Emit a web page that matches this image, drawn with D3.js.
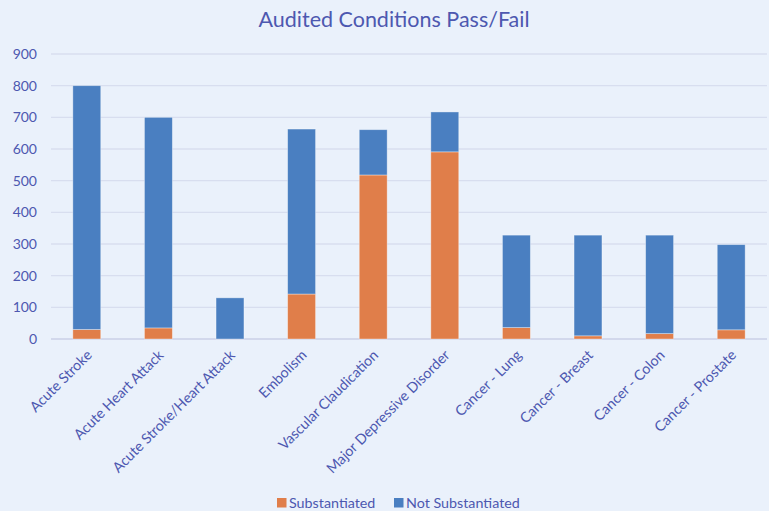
<!DOCTYPE html>
<html>
<head>
<meta charset="utf-8">
<script src="https://cdn.jsdelivr.net/npm/d3@7"></script>
<style>
  html, body { margin: 0; padding: 0; background: #eaf1fb; }
  svg { display: block; font-family: Lato, "Open Sans", sans-serif; }
</style>
</head>
<body>
<div id="chart"></div>
<script>
// categories and values
const categories = ["Acute Stroke", "Acute Heart Attack", "Acute Stroke/Heart Attack", "Embolism",
  "Vascular Claudication", "Major Depressive Disorder", "Cancer - Lung", "Cancer - Breast",
  "Cancer - Colon", "Cancer - Prostate"];
const substantiated = [30, 35, 0, 142, 518, 591, 36, 10, 17, 29];
const notSubstantiated = [770, 665, 130, 521, 143, 126, 292, 318, 311, 269];
const seriesNames = ["Substantiated", "Not Substantiated"];
const yTicks = [0, 100, 200, 300, 400, 500, 600, 700, 800, 900];

const W = 769, H = 511;
const margin = { top: 54, right: 2, bottom: 172, left: 51 };
const textColor = "#4d58b0";
const colors = { "Substantiated": "#e07e4a", "Not Substantiated": "#4a7fc1" };

const svg = d3.select("#chart").append("svg")
  .attr("width", W).attr("height", H);

svg.append("rect").attr("width", W).attr("height", H).attr("fill", "#eaf1fb");

const x = d3.scaleBand().domain(categories)
  .range([margin.left, W - margin.right]).paddingInner(0.61).paddingOuter(0.305);
const y = d3.scaleLinear().domain([0, 900]).range([H - margin.bottom, margin.top]);

// title
svg.append("text")
  .attr("x", 394).attr("y", 27)
  .attr("text-anchor", "middle")
  .attr("fill", textColor)
  .style("font-size", "21.5px")
  .text("Audited Conditions Pass/Fail");

// gridlines
svg.append("g").selectAll("line").data(yTicks).join("line")
  .attr("x1", margin.left).attr("x2", W - margin.right)
  .attr("y1", d => y(d)).attr("y2", d => y(d))
  .attr("stroke", d => d === 0 ? "#d2d8ec" : "#d8deef")
  .attr("stroke-width", d => d === 0 ? 2 : 1.4);

// y labels
svg.append("g").selectAll("text").data(yTicks).join("text")
  .attr("x", 37).attr("y", d => y(d))
  .attr("dy", "0.35em")
  .attr("text-anchor", "end")
  .attr("fill", textColor)
  .style("font-size", "14px")
  .text(d => d);

// stacked bars
const rows = categories.map((c, i) => ({
  category: c,
  "Substantiated": substantiated[i],
  "Not Substantiated": notSubstantiated[i]
}));
const stack = d3.stack().keys(seriesNames)(rows);

svg.append("g").selectAll("g").data(stack).join("g")
  .attr("fill", d => colors[d.key])
  .selectAll("rect").data(d => d.filter(v => v[1] - v[0] > 0)).join("rect")
  .attr("x", d => x(d.data.category))
  .attr("width", x.bandwidth())
  .attr("y", d => y(d[1]))
  .attr("height", d => y(d[0]) - y(d[1]))
  .attr("stroke", "rgba(255,255,255,0.45)")
  .attr("stroke-width", 0.8);

// x labels, rotated
svg.append("g").selectAll("text").data(categories).join("text")
  .attr("transform", d => `translate(${x(d) + x.bandwidth() / 2 + 6},${y(0) + 17}) rotate(-45)`)
  .attr("text-anchor", "end")
  .attr("fill", textColor)
  .style("font-size", "14.3px")
  .text(d => d);

// legend
const legend = svg.append("g");
const legendX = [277, 394];
seriesNames.forEach((s, i) => {
  legend.append("rect")
    .attr("x", legendX[i]).attr("y", 498)
    .attr("width", 9.5).attr("height", 9.5)
    .attr("fill", colors[s]);
  legend.append("text")
    .attr("x", legendX[i] + 12).attr("y", 508)
    .attr("fill", textColor)
    .style("font-size", "14.3px")
    .text(s);
});
</script>
</body>
</html>
